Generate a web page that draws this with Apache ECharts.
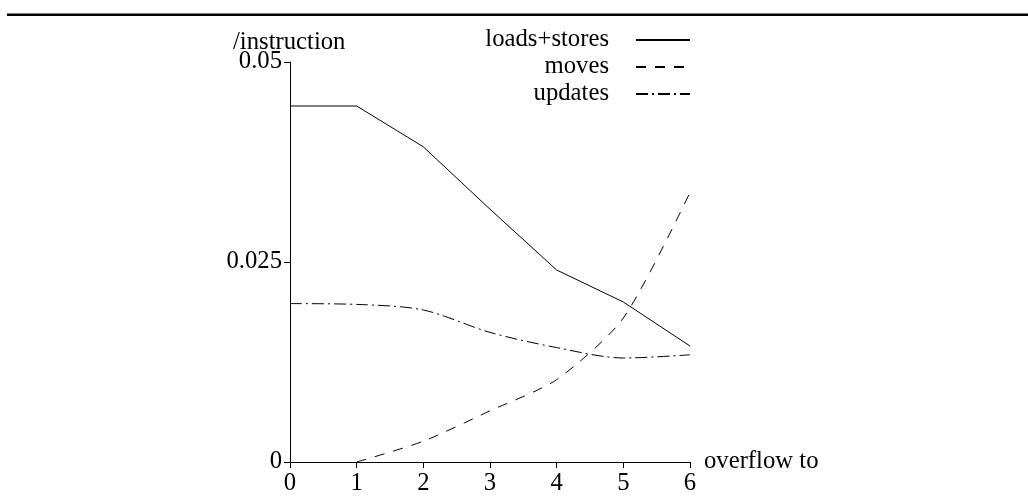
<!DOCTYPE html>
<html>
<head>
<meta charset="utf-8">
<script src="https://cdn.jsdelivr.net/npm/echarts@6/dist/echarts.min.js"></script>
<style>
  html, body { margin: 0; padding: 0; background: #fff; }
  #chart { width: 1028px; height: 500px; }
</style>
</head>
<body>
<div id="chart"></div>
<script>
// Overflow targets on the x axis
const overflowTo = ['0', '1', '2', '3', '4', '5', '6'];
// Per-instruction rates for each kind of operation
const loadsStores = [0.0445, 0.0445, 0.0394, 0.0316, 0.0240, 0.0200, 0.0145];
const moves       = [null,   0.0000, 0.0026, 0.0064, 0.0103, 0.0180, 0.0337];
const updates     = [0.0198, 0.0197, 0.0190, 0.0162, 0.0143, 0.0130, 0.0134];
const yTicks = [0, 0.025, 0.05];

const FONT = '"Liberation Serif", "DejaVu Serif", serif';
const FS = 24.7;
const INK = '#000';

const chart = echarts.init(document.getElementById('chart'), null, { renderer: 'canvas' });

function lineSeries(name, data, dash, smooth) {
  return {
    name: name,
    type: 'line',
    data: data,
    symbol: 'none',
    showSymbol: false,
    smooth: smooth,
    connectNulls: false,
    lineStyle: { color: INK, width: 1, type: dash },
    itemStyle: { color: INK },
    emphasis: { disabled: true },
    animation: false
  };
}

chart.setOption({
  backgroundColor: '#fff',
  animation: false,
  textStyle: { fontFamily: FONT, color: INK },
  grid: { left: 290, right: 338, top: 62, bottom: 38, containLabel: false },
  title: {
    text: '/instruction',
    left: 228,
    top: 25,
    textStyle: { fontFamily: FONT, fontSize: FS, fontWeight: 'normal', color: INK }
  },
  legend: {
    orient: 'vertical',
    right: 337,
    top: 27,
    padding: 0,
    align: 'right',
    itemWidth: 54,
    itemHeight: 8,
    itemGap: 1,
    selectedMode: false,
    itemStyle: { opacity: 0 },
    textStyle: { fontFamily: FONT, fontSize: FS, color: INK, lineHeight: 16, padding: [10, 22, 0, 0] },
    data: ['loads+stores', 'moves', 'updates']
  },
  xAxis: {
    type: 'category',
    data: overflowTo,
    boundaryGap: false,
    name: 'overflow to',
    nameLocation: 'end',
    nameGap: 14,
    nameTextStyle: { fontFamily: FONT, fontSize: FS, color: INK, verticalAlign: 'middle', padding: [6, 0, 0, 0] },
    axisLine: { lineStyle: { color: INK, width: 1 } },
    axisTick: { show: true, length: 6, inside: false, alignWithLabel: true, lineStyle: { color: INK } },
    axisLabel: { fontFamily: FONT, fontSize: FS, color: INK, margin: 9 },
    splitLine: { show: false }
  },
  yAxis: {
    type: 'value',
    min: 0,
    max: 0.05,
    interval: 0.025,
    axisLine: { show: true, lineStyle: { color: INK, width: 1 } },
    axisTick: { show: true, length: 6, lineStyle: { color: INK } },
    axisLabel: {
      fontFamily: FONT, fontSize: FS, color: INK, margin: 8,
      formatter: function (v) {
        const hit = yTicks.find(t => Math.abs(t - v) < 1e-9);
        return hit === undefined ? '' : String(hit);
      }
    },
    splitLine: { show: false }
  },
  graphic: [{
    type: 'rect',
    shape: { x: 7, y: 13.5, width: 1021, height: 2.5 },
    style: { fill: INK },
    silent: true
  }],
  series: [
    lineSeries('loads+stores', loadsStores, 'solid', false),
    lineSeries('moves', moves, [10, 9], 0.25),
    lineSeries('updates', updates, [12, 4, 2, 4], 0.3)
  ]
});
</script>
</body>
</html>
